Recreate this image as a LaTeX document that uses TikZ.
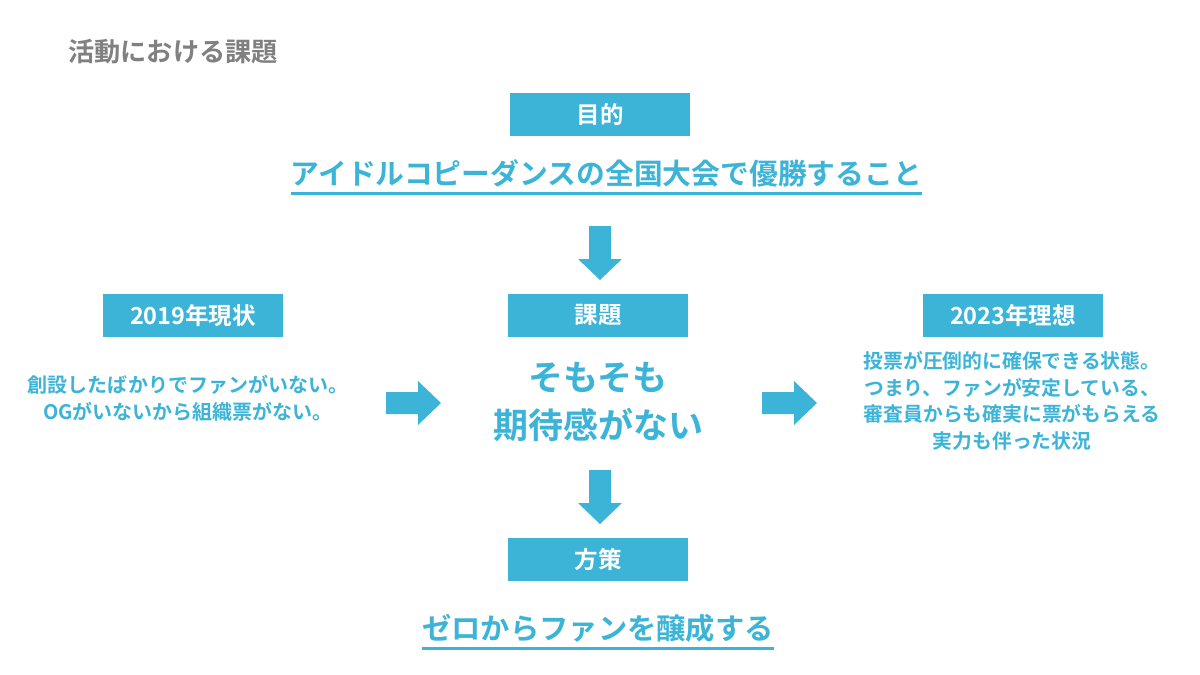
\documentclass[tikz,border=0pt]{standalone}
\usepackage{fontspec}
\usetikzlibrary{calc}
\setmainfont{Noto Sans CJK JP}[BoldFont={Noto Sans CJK JP Bold}]
\definecolor{accent}{HTML}{3CB4D8}
\definecolor{titlegray}{HTML}{808080}
\tikzset{
  label box/.style={fill=accent, text=white, minimum width=180pt, minimum height=43pt, inner sep=0pt, font=\fontsize{23.5}{26}\selectfont\bfseries},
  bodytext/.style={text=accent, align=center, inner sep=0pt, font=\fontsize{20}{27}\selectfont\bfseries},
  righttext/.style={bodytext, font=\fontsize{19.8}{26.7}\selectfont\bfseries},
  bigtext/.style={text=accent, align=center, inner sep=0pt, font=\fontsize{35}{48}\selectfont\bfseries},
  linktext/.style={text=accent, inner sep=0pt, font=\fontsize{28.8}{32}\selectfont\bfseries},
  uline/.style={draw=accent, line width=2.4pt},
  blockarrow/.style={fill=accent, draw=none}
}
\begin{document}
\begin{tikzpicture}[x=1pt,y=-1pt]
\useasboundingbox (0,0) rectangle (1200,675);
\fill[white] (0,0) rectangle (1200,675);
% title
\node[anchor=west, inner sep=0pt, text=titlegray, font=\fontsize{26.2}{28}\selectfont\bfseries] (title) at (68,52) {活動における課題};
% purpose
\node[label box] (purpose) at (600,114) {目的};
\node[linktext] (goal) at (606.5,173) {アイドルコピーダンスの全国大会で優勝すること};
\draw[uline] ([yshift=-9.5pt]goal.base west) -- ([yshift=-9.5pt]goal.base east);
% arrow down 1
\coordinate (a1) at (600,226);
\fill[blockarrow] ($(a1)+(-11,0)$) -- ($(a1)+(11,0)$) -- ($(a1)+(11,33)$) -- ($(a1)+(22,33)$) -- ($(a1)+(0,54)$) -- ($(a1)+(-22,33)$) -- ($(a1)+(-11,33)$) -- cycle;
% boxes row
\node[label box] (now) at (193,315.5) {2019年現状};
\node[label box] (issue) at (598,315.5) {課題};
\node[label box] (ideal) at (1013,315.5) {2023年理想};
% texts row
\node[bodytext] (nowtext) at (188,398.5) {創設したばかりでファンがいない。\\OGがいないから組織票がない。};
\node[bigtext] (issuetext) at (598,402) {そもそも\\期待感がない};
\node[righttext] (idealtext) at (1012,401) {投票が圧倒的に確保できる状態。\\つまり、ファンが安定している、\\審査員からも確実に票がもらえる\\実力も伴った状況};
% right arrows
\coordinate (a2) at (386,403);
\fill[blockarrow] ($(a2)+(0,-11)$) -- ($(a2)+(32,-11)$) -- ($(a2)+(32,-22)$) -- ($(a2)+(55,0)$) -- ($(a2)+(32,22)$) -- ($(a2)+(32,11)$) -- ($(a2)+(0,11)$) -- cycle;
\coordinate (a3) at (762,403);
\fill[blockarrow] ($(a3)+(0,-11)$) -- ($(a3)+(32,-11)$) -- ($(a3)+(32,-22)$) -- ($(a3)+(55,0)$) -- ($(a3)+(32,22)$) -- ($(a3)+(32,11)$) -- ($(a3)+(0,11)$) -- cycle;
% arrow down 2
\coordinate (a4) at (600,470);
\fill[blockarrow] ($(a4)+(-11,0)$) -- ($(a4)+(11,0)$) -- ($(a4)+(11,33)$) -- ($(a4)+(22,33)$) -- ($(a4)+(0,54)$) -- ($(a4)+(-22,33)$) -- ($(a4)+(-11,33)$) -- cycle;
% measure
\node[label box] (measure) at (598,559.5) {方策};
\node[linktext, font=\fontsize{29.3}{32}\selectfont\bfseries] (plan) at (598,628) {ゼロからファンを醸成する};
\draw[uline] ([yshift=-9.5pt]plan.base west) -- ([yshift=-9.5pt]plan.base east);
\end{tikzpicture}
\end{document}
